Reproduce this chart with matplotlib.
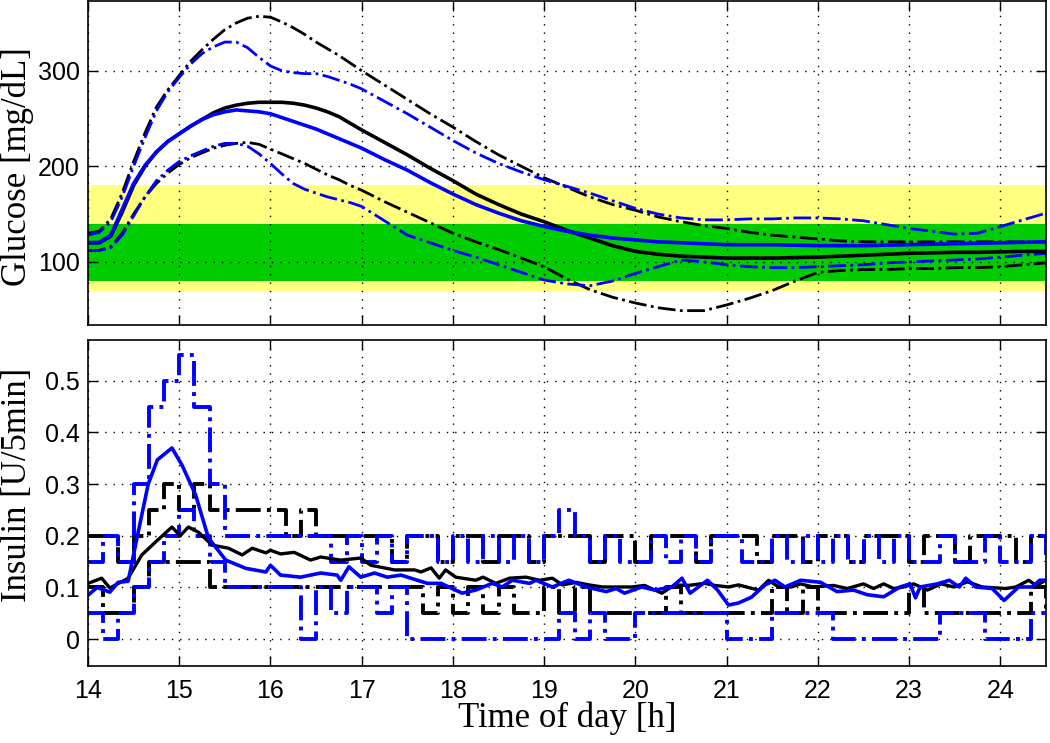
import matplotlib
matplotlib.use("Agg")
import matplotlib.pyplot as plt
import numpy as np

# ---- glucose (top panel): 7.5-min samples up to 17:00, 15-min after ----
t_glu = np.concatenate([np.arange(14.0, 17.0, 0.125), np.arange(17.0, 24.5001, 0.25)])

glu_black_mean = [120, 120, 127, 152, 180, 200, 215, 226, 234, 242, 249, 256,
                  261, 264, 266, 267, 267, 267, 266, 264, 261, 257, 252, 245,
                  238, 225, 212, 198, 185, 171, 160, 150, 142, 133, 125, 117,
                  111, 108, 106, 105, 104, 104, 104, 104.5, 105, 106, 107, 108,
                  109, 109.5, 110, 110, 110.5, 111, 111]
glu_blue_mean = [120, 120.5, 128, 155, 182, 201, 215, 226, 234, 242, 249, 254,
                 257, 259, 258, 257, 255, 251, 247, 243, 239, 234, 229, 224,
                 219, 207, 196, 183, 171, 160, 151, 143, 137, 132, 128, 125,
                 123, 121, 120, 119, 118, 118, 118, 117.5, 117, 117, 117, 117.5,
                 118, 118.5, 119, 119.5, 120, 120.5, 121]
glu_black_hi = [130, 132, 145, 172, 205, 235, 262, 280, 295, 310, 322, 333,
                343, 350, 355, 357, 356, 351, 345, 338, 330, 323, 316, 308,
                300, 285, 270, 255, 241, 226, 212, 200, 188, 178, 168, 160,
                154, 147, 142, 138, 135, 131, 128, 126, 124, 122, 121, 121,
                121, 121, 121, 121, 121, 121, 121]
glu_blue_hi = [128, 131, 142, 168, 200, 230, 258, 278, 293, 307, 318, 325,
               330, 330, 324, 314, 305, 300, 298, 297, 297, 294, 290, 286,
               281, 268, 255, 241, 227, 214, 203, 194, 186, 179, 172, 164,
               156, 150, 146, 144, 144, 145, 145, 146, 146, 145, 143, 139,
               135, 132, 129, 130, 137, 144, 151]
glu_black_lo = [112, 112, 116, 130, 150, 168, 182, 193, 202, 209, 214, 219,
                222, 224, 225, 223, 218, 213, 208, 203, 197, 191, 186, 180,
                175, 163, 152, 141, 130, 121, 113, 104, 95, 82, 71, 63,
                57, 52, 49, 49, 55, 62, 70, 80, 89, 91, 92, 92,
                93, 93, 94, 94, 95, 97, 99]
glu_blue_lo = [112, 112, 115, 128, 148, 168, 185, 196, 205, 211, 216, 221,
               224, 224, 221, 213, 203, 192, 182, 176, 172, 168, 165, 162,
               158, 143, 128, 120, 112, 105, 97, 89, 81, 77, 75, 80,
               88, 95, 102, 100, 97, 95, 94, 94, 95, 96, 97, 99,
               100, 101, 102, 103, 105, 107, 109]

# ---- insulin (bottom panel) ----
# mean insulin, vertices
ins_black_t = [14.00, 14.15, 14.24, 14.44, 14.59, 14.74, 14.92, 15.01, 15.10, 15.21,
               15.36, 15.54, 15.69, 15.80, 15.95, 16.00, 16.11, 16.26, 16.44, 16.55,
               16.77, 16.99, 17.10, 17.36, 17.58, 17.65, 17.76, 17.85, 17.92, 18.03,
               18.25, 18.33, 18.47, 18.62, 18.80, 18.95, 19.09, 19.20, 19.35, 19.49,
               19.64, 19.79, 19.96, 20.10, 20.29, 20.43, 20.58, 20.76, 20.87, 21.02,
               21.13, 21.35, 21.46, 21.57, 21.71, 21.81, 21.95, 22.17, 22.32, 22.50,
               22.61, 22.72, 22.83, 22.94, 23.05, 23.20, 23.35, 23.49, 23.64, 23.80,
               24.06, 24.17, 24.31, 24.39, 24.50]
ins_black_v = [0.108, 0.118, 0.099, 0.118, 0.163, 0.188, 0.217, 0.200, 0.217, 0.207,
               0.182, 0.176, 0.163, 0.176, 0.167, 0.172, 0.165, 0.168, 0.153, 0.159,
               0.153, 0.157, 0.143, 0.134, 0.134, 0.130, 0.138, 0.118, 0.134, 0.120,
               0.114, 0.120, 0.108, 0.118, 0.120, 0.114, 0.118, 0.105, 0.110, 0.105,
               0.101, 0.101, 0.101, 0.104, 0.089, 0.105, 0.104, 0.108, 0.104, 0.101,
               0.105, 0.095, 0.114, 0.101, 0.101, 0.107, 0.101, 0.104, 0.098, 0.107,
               0.098, 0.107, 0.098, 0.101, 0.107, 0.095, 0.107, 0.101, 0.111, 0.101,
               0.098, 0.101, 0.114, 0.104, 0.114]
ins_blue_t = [14.00, 14.10, 14.24, 14.33, 14.44, 14.55, 14.66, 14.76, 14.92, 15.03,
              15.18, 15.32, 15.51, 15.73, 15.95, 16.00, 16.11, 16.33, 16.55, 16.73,
              16.77, 16.86, 16.99, 17.14, 17.28, 17.43, 17.61, 17.72, 17.87, 18.10,
              18.25, 18.43, 18.54, 18.65, 18.84, 18.91, 19.09, 19.27, 19.46, 19.68,
              19.79, 19.88, 20.07, 20.21, 20.40, 20.51, 20.60, 20.79, 20.90, 21.02,
              21.13, 21.27, 21.42, 21.53, 21.64, 21.81, 22.03, 22.21, 22.39, 22.54,
              22.72, 22.90, 23.01, 23.07, 23.12, 23.31, 23.44, 23.55, 23.62, 23.73,
              23.91, 24.04, 24.20, 24.35, 24.43, 24.50]
ins_blue_v = [0.085, 0.100, 0.091, 0.110, 0.112, 0.207, 0.300, 0.347, 0.370, 0.337,
              0.279, 0.196, 0.153, 0.137, 0.130, 0.143, 0.124, 0.120, 0.128, 0.124,
              0.114, 0.140, 0.120, 0.128, 0.120, 0.124, 0.114, 0.108, 0.108, 0.089,
              0.095, 0.108, 0.101, 0.114, 0.108, 0.114, 0.101, 0.114, 0.101, 0.092,
              0.098, 0.089, 0.101, 0.095, 0.101, 0.118, 0.089, 0.114, 0.095, 0.066,
              0.070, 0.081, 0.105, 0.114, 0.101, 0.114, 0.110, 0.092, 0.095, 0.086,
              0.082, 0.101, 0.107, 0.080, 0.101, 0.107, 0.114, 0.101, 0.118, 0.101,
              0.098, 0.075, 0.101, 0.101, 0.114, 0.114]

# percentile bands of insulin, 10-min steps from 14:00 to 24:30
t_step = 14.0 + np.arange(64) / 6.0
ins_black_hi = [0.2, 0.2, 0.15, 0.2, 0.25, 0.3, 0.25, 0.3, 0.25, 0.25,
                0.25, 0.25, 0.25, 0.2, 0.25, 0.2, 0.2, 0.2, 0.2, 0.2,
                0.15, 0.2, 0.2, 0.15, 0.2, 0.2, 0.15, 0.2, 0.2, 0.15,
                0.2, 0.2, 0.2, 0.15, 0.2, 0.2, 0.15, 0.2, 0.2, 0.2,
                0.15, 0.2, 0.2, 0.2, 0.15, 0.2, 0.2, 0.15, 0.2, 0.2,
                0.15, 0.2, 0.2, 0.2, 0.15, 0.2, 0.2, 0.15, 0.2, 0.2,
                0.2, 0.15, 0.2, 0.2]
ins_black_lo = [0.1, 0.05, 0.05, 0.1, 0.15, 0.15, 0.15, 0.15, 0.1, 0.1,
                0.1, 0.1, 0.1, 0.1, 0.1, 0.1, 0.1, 0.1, 0.1, 0.1,
                0.1, 0.1, 0.05, 0.1, 0.05, 0.1, 0.05, 0.1, 0.05, 0.05,
                0.1, 0.05, 0.1, 0.05, 0.05, 0.05, 0.05, 0.05, 0.1, 0.05,
                0.05, 0.05, 0.05, 0.05, 0.05, 0.1, 0.05, 0.1, 0.05, 0.05,
                0.05, 0.05, 0.05, 0.05, 0.1, 0.05, 0.05, 0.05, 0.05, 0.05,
                0.05, 0.05, 0.1, 0.05]
ins_blue_hi = [0.15, 0.2, 0.15, 0.3, 0.45, 0.5, 0.55, 0.45, 0.3, 0.2,
               0.2, 0.2, 0.2, 0.2, 0.2, 0.2, 0.15, 0.2, 0.15, 0.2,
               0.15, 0.2, 0.2, 0.15, 0.2, 0.15, 0.2, 0.15, 0.2, 0.15,
               0.2, 0.25, 0.2, 0.15, 0.2, 0.15, 0.15, 0.2, 0.15, 0.2,
               0.15, 0.2, 0.2, 0.15, 0.15, 0.2, 0.15, 0.2, 0.15, 0.2,
               0.15, 0.2, 0.15, 0.2, 0.15, 0.15, 0.2, 0.15, 0.15, 0.2,
               0.15, 0.15, 0.2, 0.15]
ins_blue_lo = [0.05, 0.0, 0.05, 0.1, 0.15, 0.2, 0.25, 0.2, 0.15, 0.1,
               0.1, 0.1, 0.1, 0.1, 0.0, 0.1, 0.05, 0.1, 0.1, 0.05,
               0.1, 0.0, 0.0, 0.0, 0.0, 0.0, 0.0, 0.0, 0.0, 0.0,
               0.0, 0.05, 0.0, 0.05, 0.0, 0.0, 0.05, 0.05, 0.05, 0.05,
               0.05, 0.05, 0.0, 0.0, 0.0, 0.05, 0.05, 0.05, 0.05, 0.0,
               0.0, 0.0, 0.0, 0.0, 0.0, 0.0, 0.05, 0.05, 0.05, 0.0,
               0.0, 0.0, 0.05, 0.05]

x_ticks = list(range(14, 25))

serif = "Liberation Serif"
sans = "Liberation Sans"

fig = plt.figure(figsize=(10.5, 7.43), dpi=100)
ax_g = fig.add_axes([0.0838, 0.5626, 0.9124, 0.4361])
ax_i = fig.add_axes([0.0838, 0.1036, 0.9124, 0.4388])

# target ranges
ax_g.axhspan(70, 180, color="#FFFF80", lw=0, zorder=0)
ax_g.axhspan(80, 140, color="#00CC00", lw=0, zorder=0.5)

dd = dict(ls="-.", lw=2.0)
ax_g.plot(t_glu, glu_black_hi, color="k", **dd)
ax_g.plot(t_glu, glu_black_lo, color="k", **dd)
ax_g.plot(t_glu, glu_blue_hi, color="b", **dd)
ax_g.plot(t_glu, glu_blue_lo, color="b", **dd)
ax_g.plot(t_glu, glu_black_mean, color="k", lw=2.6)
ax_g.plot(t_glu, glu_blue_mean, color="b", lw=2.6)
ax_g.set_ylim(34, 373)
ax_g.set_yticks([100, 200, 300])
ax_g.set_ylabel("Glucose [mg/dL]", family=serif, fontsize=25)
ax_g.yaxis.set_label_coords(-0.0565, 0.49)

ds = dict(ls="-.", lw=2.8, where="post")
ax_i.step(t_step, ins_black_hi, color="k", **ds)
ax_i.step(t_step, ins_black_lo, color="k", **ds)
ax_i.step(t_step, ins_blue_hi, color="b", **ds)
ax_i.step(t_step, ins_blue_lo, color="b", **ds)
ax_i.plot(ins_black_t, ins_black_v, color="k", lw=2.4)
ax_i.plot(ins_blue_t, ins_blue_v, color="b", lw=2.6)
ax_i.set_ylim(-0.052, 0.579)
ax_i.set_yticks([0, 0.1, 0.2, 0.3, 0.4, 0.5])
ax_i.set_yticklabels(["0", "0.1", "0.2", "0.3", "0.4", "0.5"])
ax_i.set_ylabel("Insulin [U/5min]", family=serif, fontsize=25)
ax_i.yaxis.set_label_coords(-0.0565, 0.555)
ax_i.set_xlabel("Time of day [h]", family=serif, fontsize=25)
ax_i.xaxis.set_label_coords(0.5, -0.11)

for ax in (ax_g, ax_i):
    ax.set_xlim(14, 24.5)
    ax.set_xticks(x_ticks)
    ax.grid(True, color="k", ls=(0, (1, 5)), lw=1.0)
    ax.tick_params(direction="in", top=True, right=True, length=7, width=1,
                   labelsize=18, pad=6)
    for lab in ax.get_xticklabels() + ax.get_yticklabels():
        lab.set_family(sans)
    for sp in ax.spines.values():
        sp.set_linewidth(1.2)
ax_g.tick_params(labelbottom=False)
ax_i.tick_params(axis="x", pad=9)

fig.savefig("out.png", dpi=100)
